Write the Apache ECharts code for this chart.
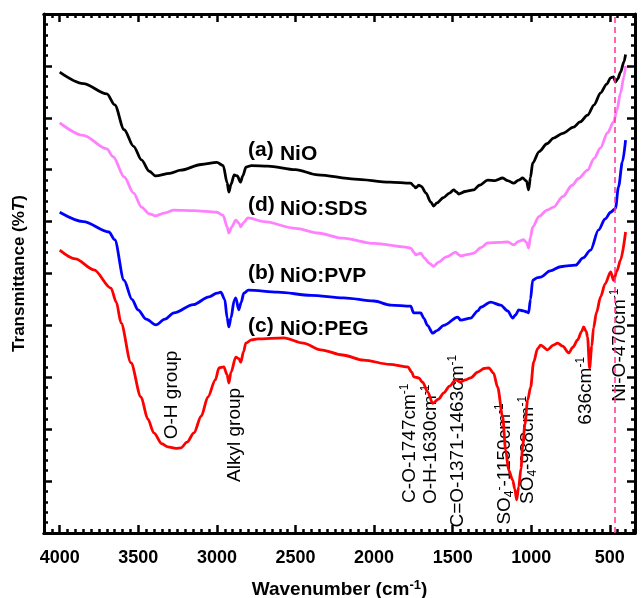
<!DOCTYPE html>
<html>
<head>
<meta charset="utf-8">
<script src="https://cdn.jsdelivr.net/npm/echarts@6/dist/echarts.min.js"></script>
<style>
  html, body { margin: 0; padding: 0; background: #ffffff; }
  #chart { width: 641px; height: 598px; }
</style>
</head>
<body>
<div id="chart"></div>
<script>
// FTIR spectra: wavenumber (cm-1) and offset transmittance for each sample

// (a) NiO
const wnNiO = [4000, 3850, 3700, 3650, 3590, 3530, 3480, 3430, 3390, 3300, 3230, 3100, 3000, 2960, 2935, 2924, 2910, 2890, 2870, 2850, 2835, 2815, 2780, 2676, 2500, 2358, 2124, 1900, 1767, 1745, 1735, 1716, 1700, 1670, 1640, 1621, 1600, 1560, 1520, 1494, 1475, 1462, 1420, 1367, 1330, 1277, 1230, 1182, 1150, 1112, 1080, 1055, 1030, 1017, 1005, 991, 950, 900, 858, 800, 731, 690, 642, 600, 559, 520, 495, 476, 464, 450, 432, 410, 400];
const tNiO  = [8.88, 8.66, 8.46, 8.25, 7.77, 7.45, 7.19, 6.97, 6.88, 6.93, 6.99, 7.10, 7.14, 7.08, 6.75, 6.57, 6.72, 6.90, 6.88, 6.76, 6.88, 7.05, 7.08, 7.07, 7.00, 6.90, 6.82, 6.76, 6.74, 6.68, 6.65, 6.70, 6.68, 6.55, 6.38, 6.30, 6.36, 6.46, 6.55, 6.61, 6.57, 6.53, 6.58, 6.61, 6.70, 6.80, 6.79, 6.84, 6.79, 6.74, 6.80, 6.84, 6.78, 6.61, 6.85, 7.13, 7.35, 7.50, 7.61, 7.70, 7.82, 7.92, 8.05, 8.25, 8.48, 8.65, 8.77, 8.79, 8.69, 8.75, 8.88, 9.08, 9.22];

// (d) NiO:SDS
const wnSDS = [4000, 3850, 3700, 3660, 3590, 3530, 3480, 3430, 3390, 3330, 3274, 3150, 3000, 2960, 2935, 2924, 2905, 2880, 2860, 2848, 2830, 2803, 2700, 2500, 2358, 2200, 2000, 1800, 1767, 1745, 1735, 1703, 1680, 1650, 1621, 1590, 1540, 1481, 1460, 1449, 1400, 1367, 1320, 1277, 1200, 1150, 1112, 1080, 1049, 1030, 1017, 1005, 991, 950, 900, 858, 800, 740, 700, 642, 600, 560, 515, 476, 455, 432, 410, 400];
const tSDS  = [7.90, 7.66, 7.40, 7.25, 6.86, 6.55, 6.28, 6.15, 6.11, 6.17, 6.22, 6.21, 6.18, 6.12, 5.90, 5.78, 5.90, 6.03, 5.97, 5.90, 5.98, 6.07, 6.00, 5.87, 5.78, 5.68, 5.58, 5.51, 5.49, 5.40, 5.36, 5.39, 5.30, 5.20, 5.14, 5.22, 5.32, 5.41, 5.36, 5.34, 5.37, 5.39, 5.50, 5.59, 5.60, 5.61, 5.55, 5.62, 5.65, 5.60, 5.49, 5.70, 5.90, 6.10, 6.22, 6.28, 6.48, 6.70, 6.83, 6.99, 7.22, 7.42, 7.71, 7.92, 8.15, 8.48, 8.80, 9.00];

// (b) NiO:PVP
const wnPVP = [4000, 3850, 3687, 3650, 3591, 3540, 3502, 3450, 3388, 3330, 3274, 3150, 3050, 3000, 2975, 2950, 2935, 2924, 2910, 2890, 2880, 2861, 2845, 2829, 2800, 2612, 2400, 2193, 2000, 1894, 1767, 1748, 1703, 1684, 1660, 1627, 1600, 1557, 1468, 1449, 1386, 1340, 1322, 1258, 1195, 1150, 1118, 1100, 1080, 1050, 1029, 1017, 1005, 991, 960, 940, 880, 813, 760, 718, 670, 623, 572, 530, 495, 470, 464, 445, 420, 400];
const tPVP  = [6.18, 6.00, 5.80, 5.65, 4.87, 4.50, 4.30, 4.12, 4.01, 4.12, 4.24, 4.40, 4.55, 4.62, 4.64, 4.50, 4.15, 3.97, 4.15, 4.48, 4.53, 4.30, 4.45, 4.62, 4.68, 4.64, 4.58, 4.53, 4.47, 4.39, 4.37, 4.24, 4.24, 4.14, 4.00, 3.85, 3.90, 4.00, 4.16, 4.10, 4.14, 4.28, 4.35, 4.45, 4.39, 4.28, 4.14, 4.20, 4.30, 4.28, 4.26, 4.24, 4.50, 4.87, 4.92, 4.93, 5.05, 5.13, 5.15, 5.16, 5.30, 5.45, 5.84, 6.05, 6.18, 6.24, 6.26, 6.67, 7.15, 7.57];

// (c) NiO:PEG
const wnPEG = [4000, 3900, 3782, 3674, 3640, 3610, 3547, 3483, 3440, 3401, 3350, 3312, 3260, 3229, 3190, 3146, 3100, 3057, 3010, 2987, 2956, 2935, 2924, 2910, 2880, 2860, 2848, 2830, 2816, 2780, 2740, 2574, 2450, 2339, 2200, 2066, 1900, 1786, 1760, 1748, 1716, 1690, 1659, 1627, 1590, 1557, 1520, 1481, 1449, 1420, 1386, 1340, 1300, 1270, 1240, 1214, 1182, 1163, 1144, 1118, 1105, 1093, 1080, 1065, 1055, 1040, 1023, 1004, 985, 960, 940, 896, 860, 832, 800, 762, 735, 705, 680, 667, 650, 642, 629, 615, 604, 585, 559, 530, 495, 476, 455, 432, 400];
const tPEG  = [5.45, 5.28, 5.07, 4.72, 4.45, 4.05, 3.28, 2.62, 2.20, 1.93, 1.72, 1.66, 1.63, 1.64, 1.75, 1.93, 2.25, 2.62, 2.95, 3.18, 3.20, 3.05, 2.89, 3.10, 3.39, 3.36, 3.29, 3.50, 3.66, 3.72, 3.74, 3.76, 3.66, 3.53, 3.43, 3.33, 3.25, 3.20, 3.10, 3.01, 2.99, 2.90, 2.72, 2.50, 2.58, 2.70, 2.83, 2.95, 2.91, 2.95, 2.99, 3.10, 3.17, 3.18, 3.08, 2.81, 2.24, 1.60, 1.21, 1.02, 0.85, 0.64, 0.89, 1.25, 1.66, 2.10, 2.56, 2.81, 3.29, 3.55, 3.62, 3.53, 3.62, 3.66, 3.60, 3.47, 3.58, 3.72, 3.88, 3.97, 3.88, 3.78, 3.18, 3.60, 3.95, 4.25, 4.55, 4.80, 5.03, 4.87, 5.05, 5.26, 5.80];

// Wavenumber axis tick labels
const xTickValues = [500, 1000, 1500, 2000, 2500, 3000, 3500, 4000];

// Ni-O stretching reference line
const niOLine = 470;

// Sample tags: [tag, name, tag anchor (wn, T), name anchor (wn, T)]
const sampleTags = [
  ['(a)', 'NiO',     [2802, 7.38], [2599, 7.29]],
  ['(d)', 'NiO:SDS', [2802, 6.32], [2599, 6.24]],
  ['(b)', 'NiO:PVP', [2802, 5.01], [2599, 4.94]],
  ['(c)', 'NiO:PEG', [2802, 3.99], [2599, 3.92]]
];

// Band assignments, written vertically at (wn, T)
const bandNotes = [
  ['O-H group',                         [3286, 2.66]],
  ['Alkyl group',                       [2885, 1.89]],
  ['C-O-1747cm{sup|-1}',                [1772, 1.73]],
  ['O-H-1630cm{sup|-1}',                [1638, 1.71]],
  ['C=O-1371-1463cm{sup|-1}',           [1466, 1.77]],
  ['SO{sub|4}{sup|-}-1150cm{sup|-1}',   [1167, 1.33]],
  ['SO{sub|4}-988cm{sup|-1}',           [1021, 1.60]],
  ['636cm{sup|-1}',                     [652, 2.74]],
  ['Ni-O-470cm{sup|-1}',                [436, 3.62]]
];

const FONT = '"Liberation Sans", Arial, Helvetica, sans-serif';
const pairs = (xs, ys) => xs.map((x, i) => [x, ys[i]]);

const xMin = 340, xMax = 4100;
const minorX = [];
for (let v = 350; v <= 4100; v += 50) if (v % 500 !== 0) minorX.push(v);

function xAxisDef(position, values, len, withLabels) {
  const ax = {
    type: 'value', position: position, inverse: true, min: xMin, max: xMax,
    axisLine: { show: true, onZero: false, lineStyle: { color: '#000', width: 3 } },
    axisTick: { show: true, inside: true, length: len, customValues: values, lineStyle: { color: '#000', width: 2.5 } },
    axisLabel: { show: false },
    splitLine: { show: false }
  };
  if (withLabels) {
    ax.axisLabel = {
      show: true, customValues: values, margin: 16,
      formatter: (v) => String(v),
      color: '#000', fontSize: 18, fontWeight: 'bold', fontFamily: FONT
    };
    ax.name = 'Wavenumber (cm{sup|-1})';
    ax.nameLocation = 'middle';
    ax.nameGap = 46;
    ax.nameTextStyle = {
      color: '#000', fontSize: 19, fontWeight: 'bold', fontFamily: FONT, lineHeight: 22,
      rich: { sup: { fontSize: 13, fontWeight: 'bold', fontFamily: FONT, verticalAlign: 'top', lineHeight: 13, color: '#000' } }
    };
  }
  return ax;
}

function yAxisDef(position, withName) {
  const ax = {
    type: 'value', position: position, min: 0, max: 10, interval: 1,
    axisLine: { show: true, onZero: false, lineStyle: { color: '#000', width: 3 } },
    axisTick: { show: true, inside: true, length: 8, lineStyle: { color: '#000', width: 2.5 } },
    minorTick: { show: true, splitNumber: 5, length: 4, lineStyle: { color: '#000', width: 2.5 } },
    axisLabel: { show: false },
    splitLine: { show: false },
    minorSplitLine: { show: false }
  };
  if (withName) {
    ax.name = 'Transmittance (%{i|T})';
    ax.nameLocation = 'middle';
    ax.nameGap = 16;
    ax.nameTextStyle = {
      color: '#000', fontSize: 17, fontWeight: 'bold', fontFamily: FONT,
      rich: { i: { fontSize: 17, fontWeight: 'bold', fontStyle: 'italic', fontFamily: FONT, color: '#000' } }
    };
  }
  return ax;
}

function lineSeries(name, data, color, extra) {
  return Object.assign({
    name: name, type: 'line', xAxisIndex: 0, yAxisIndex: 0,
    data: data, showSymbol: false, symbol: 'none',
    smooth: 0.3, smoothMonotone: 'x',
    lineStyle: { color: color, width: 2.8 },
    silent: true, animation: false
  }, extra || {});
}

const chart = echarts.init(document.getElementById('chart'), null, { renderer: 'canvas' });

const option = {
  backgroundColor: '#ffffff',
  animation: false,
  grid: { left: 44, right: 6, top: 14, bottom: 65, containLabel: false, outerBoundsMode: 'none' },
  xAxis: [
    xAxisDef('bottom', xTickValues, 8, true),
    xAxisDef('bottom', minorX, 4, false),
    xAxisDef('top', xTickValues, 8, false),
    xAxisDef('top', minorX, 4, false)
  ],
  yAxis: [yAxisDef('left', true), yAxisDef('right', false)],
  series: [
    lineSeries('NiO', pairs(wnNiO, tNiO), '#000000'),
    lineSeries('NiO:SDS', pairs(wnSDS, tSDS), '#ff80ff'),
    lineSeries('NiO:PVP', pairs(wnPVP, tPVP), '#0000ff'),
    lineSeries('NiO:PEG', pairs(wnPEG, tPEG), '#ff0000', {
      markLine: {
        silent: true, symbol: 'none', animation: false,
        label: { show: false },
        lineStyle: { color: '#ff3399', width: 1.5, type: [6, 4] },
        data: [{ xAxis: niOLine }]
      }
    })
  ]
};

chart.setOption(option);

// Text overlays positioned from data coordinates
const toPx = (p) => chart.convertToPixel({ xAxisIndex: 0, yAxisIndex: 0 }, p);
const graphics = [];

sampleTags.forEach(([tag, name, tagAt, nameAt]) => {
  const a = toPx(tagAt), b = toPx(nameAt);
  graphics.push({
    type: 'text', x: a[0], y: a[1], silent: true,
    style: { text: tag, fill: '#000', font: 'bold 21px ' + FONT, align: 'left', verticalAlign: 'middle' }
  });
  graphics.push({
    type: 'text', x: b[0], y: b[1], silent: true,
    style: { text: name, fill: '#000', font: 'bold 21px ' + FONT, align: 'left', verticalAlign: 'middle' }
  });
});

bandNotes.forEach(([txt, at]) => {
  const p = toPx(at);
  graphics.push({
    type: 'text', x: p[0], y: p[1], rotation: Math.PI / 2, silent: true,
    style: {
      text: txt, fill: '#000', font: '19px ' + FONT, align: 'center', verticalAlign: 'middle',
      lineHeight: 22,
      rich: {
        sup: { fontSize: 12, fontFamily: FONT, fill: '#000', verticalAlign: 'top', lineHeight: 12 },
        sub: { fontSize: 12, fontFamily: FONT, fill: '#000', verticalAlign: 'bottom', lineHeight: 12 }
      }
    }
  });
});

chart.setOption({ graphic: graphics });
</script>
</body>
</html>
